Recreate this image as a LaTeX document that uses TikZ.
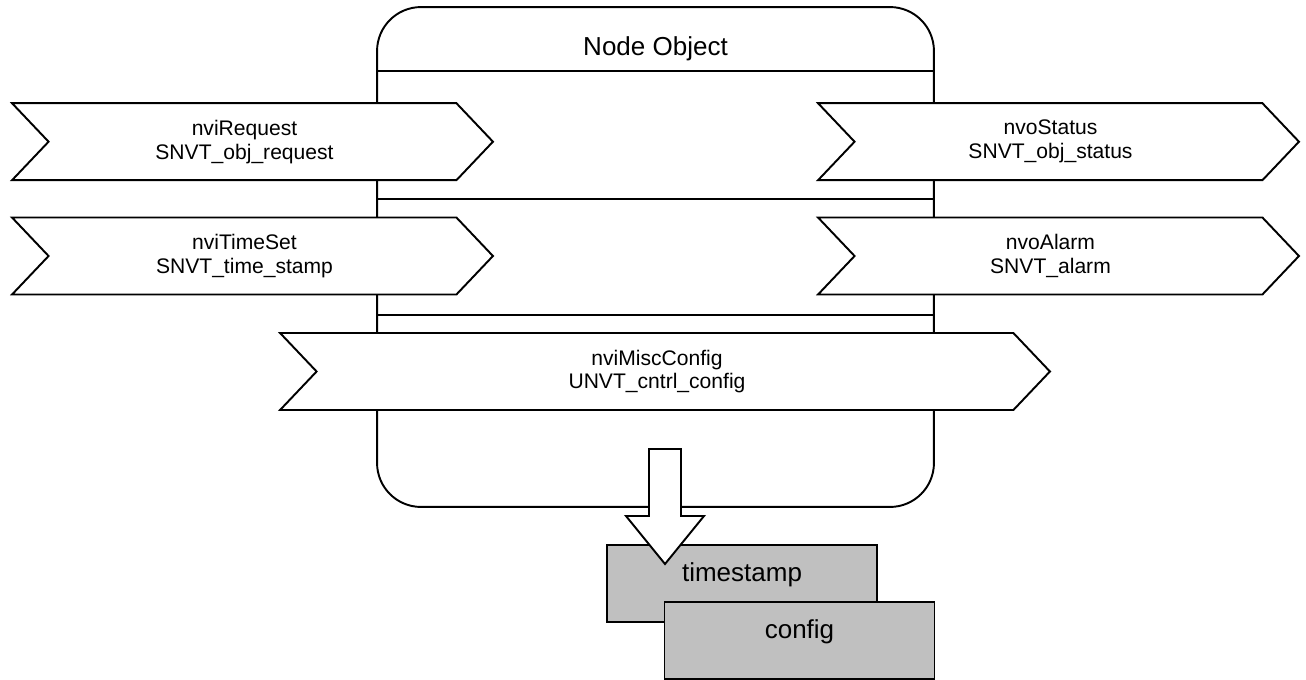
\documentclass[tikz,border=0pt]{standalone}
\usepackage{fontspec}
\setmainfont{Liberation Sans}
\usepackage{tikz}
\usetikzlibrary{shapes.symbols,calc}
\definecolor{boxGray}{HTML}{C0C0C0}
% two-line variable label, nudged a little towards the notch
\newcommand{\nvlbl}[2]{#1\hspace*{.32cm}\\#2\hspace*{.32cm}}

\begin{document}
\begin{tikzpicture}[
  x=0.02cm, y=-0.02cm,
  line width=1.1pt,
  objbox/.style={draw, rounded corners=0.88cm, minimum width=11.14cm, minimum height=10cm, inner sep=0pt},
  ttl/.style={font=\fontsize{14.8}{17}\selectfont},
  nvbox/.style={shape=signal, signal from=west, signal to=east, signal pointer angle=93,
                draw, fill=white, align=center, font=\fontsize{12}{13.6}\selectfont,
                minimum width=9.62cm, minimum height=1.54cm, inner sep=0pt},
  cfgbox/.style={draw, fill=boxGray, minimum width=5.4cm, minimum height=1.54cm,
                 font=\fontsize{14.8}{17}\selectfont, text height=0.39cm, text depth=0.47cm},
  blockarrow/.style={draw, fill=white},
]
\useasboundingbox (0,0) rectangle (1306,680);

% ── Node object frame ─────────────────────────────────────────────────────────
\node[objbox] (obj) at (655.5,257) {};
\node[ttl] (ttl) at (655.5,49) {Node Object};
\draw (obj.west |- 0,71)  -- (obj.east |- 0,71);
\draw (obj.west |- 0,199) -- (obj.east |- 0,199);
\draw (obj.west |- 0,315) -- (obj.east |- 0,315);

% ── Network variables ─────────────────────────────────────────────────────────
\node[nvbox] (req)   at (252.5,141.7)  {\nvlbl{nviRequest}{SNVT\_obj\_request}};
\node[nvbox] (stat)  at (1058.5,141.7) {\nvlbl{nvoStatus}{SNVT\_obj\_status}};
\node[nvbox] (tset)  at (252.5,256)    {\nvlbl{nviTimeSet}{SNVT\_time\_stamp}};
\node[nvbox] (alarm) at (1058.5,256)   {\nvlbl{nvoAlarm}{SNVT\_alarm}};
\node[nvbox, minimum width=15.4cm] (misc) at (665,371.5) {\nvlbl{nviMiscConfig}{UNVT\_cntrl\_config}};

% ── Configuration properties ──────────────────────────────────────────────────
\node[cfgbox] (tstamp) at (742,583.5) {timestamp};
\draw[blockarrow] (649,449) -- (681,449) -- (681,516) -- (704,516)
  -- (665,564) -- (626,516) -- (649,516) -- cycle;
\node[cfgbox] (cfg) at (799.5,640.5) {config};

\end{tikzpicture}
\end{document}
